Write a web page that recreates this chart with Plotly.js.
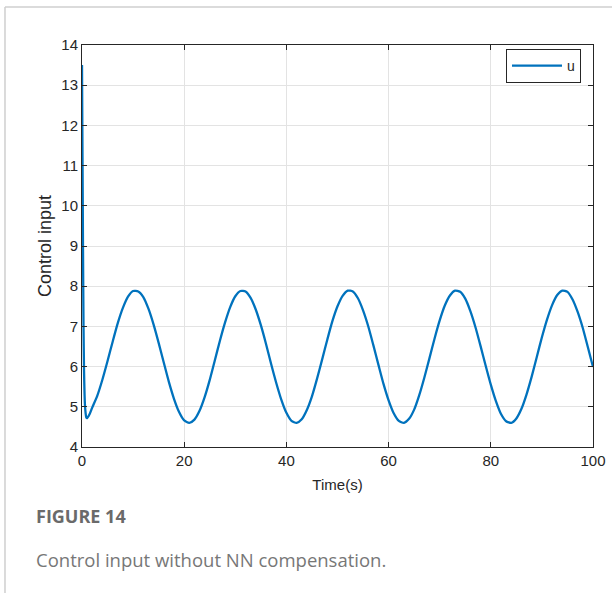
<!DOCTYPE html>
<html>
<head>
<meta charset="utf-8">
<script src="https://cdn.plot.ly/plotly-3.0.1.min.js"></script>
<style>
html,body{margin:0;padding:0;background:#fff;}
#chart{width:612px;height:593px;}
</style>
</head>
<body>
<div id="chart"></div>
<script>
// Time samples (s) and control input u
const timeS = [0, 0.1, 0.2, 0.3, 0.4, 0.5, 0.6, 0.7, 0.85, 1, 1.5,
  2, 3, 4, 5, 6, 7, 8, 9, 10, 11, 12, 13, 14, 15, 16, 17, 18, 19, 20,
  21, 22, 23, 24, 25, 26, 27, 28, 29, 30, 31, 32, 33, 34, 35, 36, 37, 38, 39, 40,
  41, 42, 43, 44, 45, 46, 47, 48, 49, 50, 51, 52, 53, 54, 55, 56, 57, 58, 59, 60,
  61, 62, 63, 64, 65, 66, 67, 68, 69, 70, 71, 72, 73, 74, 75, 76, 77, 78, 79, 80,
  81, 82, 83, 84, 85, 86, 87, 88, 89, 90, 91, 92, 93, 94, 95, 96, 97, 98, 99, 100];
const uValues = [13.5, 11.2, 8.9, 7.0, 5.9, 5.3, 5.0, 4.85, 4.73, 4.72, 4.82,
  4.98, 5.28, 5.68, 6.14, 6.62, 7.08, 7.46, 7.74, 7.88, 7.87, 7.73, 7.44, 7.05, 6.59, 6.10, 5.62, 5.20, 4.87, 4.66,
  4.60, 4.68, 4.90, 5.24, 5.67, 6.16, 6.65, 7.10, 7.48, 7.75, 7.88, 7.87, 7.71, 7.42, 7.03, 6.57, 6.07, 5.60, 5.18, 4.85,
  4.65, 4.60, 4.69, 4.92, 5.26, 5.70, 6.18, 6.67, 7.13, 7.50, 7.76, 7.89, 7.87, 7.70, 7.40, 7.01, 6.54, 6.05, 5.57, 5.16,
  4.84, 4.65, 4.60, 4.70, 4.93, 5.29, 5.73, 6.21, 6.70, 7.15, 7.52, 7.77, 7.89, 7.86, 7.69, 7.38, 6.98, 6.51, 6.02, 5.55,
  5.14, 4.82, 4.64, 4.60, 4.71, 4.95, 5.31, 5.75, 6.24, 6.73, 7.17, 7.53, 7.78, 7.89, 7.86, 7.67, 7.36, 6.96, 6.48, 5.99];
const xTicks = [0, 20, 40, 60, 80, 100];
const yTicks = [4, 5, 6, 7, 8, 9, 10, 11, 12, 13, 14];
const seriesName = 'u';
const xTitle = 'Time(s)';
const yTitle = 'Control input';
const captionHead = 'FIGURE 14';
const captionText = 'Control input without NN compensation.';

const axisColor = '#262626';
const gridColor = '#e3e3e3';
const fam = 'Liberation Sans, Arial, sans-serif';
const tickFont = {family: fam, size: 15, color: axisColor};

const trace = {
  x: timeS, y: uValues, type: 'scatter', mode: 'lines', name: seriesName,
  line: {color: '#0072BD', width: 2.3, shape: 'spline', smoothing: 0.6}
};

const layout = {
  width: 612, height: 593,
  margin: {l: 82, r: 19, t: 45, b: 146},
  paper_bgcolor: '#fff', plot_bgcolor: '#fff',
  showlegend: true,
  legend: {x: 0.9765, y: 0.99, xanchor: 'right', yanchor: 'top',
    bordercolor: axisColor, borderwidth: 1, bgcolor: '#fff',
    font: {family: fam, size: 14, color: axisColor},
    tracegroupgap: 0, itemwidth: 50},
  xaxis: {
    range: [0, 100], tickvals: xTicks, ticktext: xTicks.map(String),
    showgrid: true, gridcolor: gridColor, gridwidth: 1,
    showline: true, linecolor: axisColor, linewidth: 1, mirror: 'ticks',
    ticks: 'inside', ticklen: 5, tickcolor: axisColor,
    zeroline: false, tickfont: tickFont,
    title: {text: xTitle, font: {family: fam, size: 15, color: axisColor}, standoff: 11}
  },
  yaxis: {
    range: [4, 14], tickvals: yTicks, ticktext: yTicks.map(String),
    showgrid: true, gridcolor: gridColor, gridwidth: 1,
    showline: true, linecolor: axisColor, linewidth: 1, mirror: 'ticks',
    ticks: 'inside', ticklen: 5, tickcolor: axisColor,
    zeroline: false, tickfont: tickFont,
    title: {text: yTitle, font: {family: fam, size: 18, color: axisColor}, standoff: 5}
  },
  shapes: [
    {type: 'line', xref: 'paper', yref: 'paper', x0: -0.1507, x1: 1.04, y0: 1.0945, y1: 1.0945,
     line: {color: '#cfcfcf', width: 1.5}},
    {type: 'line', xref: 'paper', yref: 'paper', x0: -0.1507, x1: -0.1507, y0: 1.0945, y1: -0.37,
     line: {color: '#cfcfcf', width: 1.5}}
  ],
  annotations: [
    {text: '<b>' + captionHead + '</b>', xref: 'paper', yref: 'paper', x: -0.094, y: -0.172,
     xanchor: 'left', yanchor: 'middle', showarrow: false,
     font: {family: 'Open Sans, Lato, sans-serif', size: 18, color: '#6a6a6a'}},
    {text: captionText, xref: 'paper', yref: 'paper', x: -0.094, y: -0.281,
     xanchor: 'left', yanchor: 'middle', showarrow: false,
     font: {family: 'Open Sans, Lato, sans-serif', size: 18.5, color: '#777777'}}
  ]
};

Plotly.newPlot('chart', [trace], layout, {displayModeBar: false, staticPlot: true});
</script>
</body>
</html>
